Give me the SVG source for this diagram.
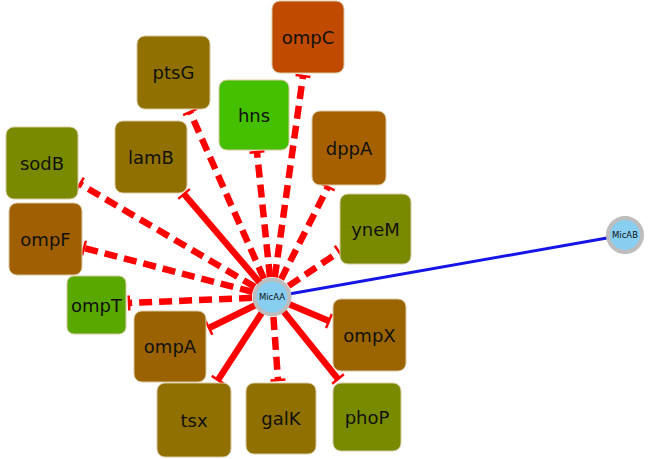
<svg xmlns="http://www.w3.org/2000/svg" width="654" height="459" viewBox="0 0 654 459">
<style>
.box{stroke:#d8c8a0;stroke-width:1}
.lbl{font-family:"DejaVu Sans",sans-serif;font-size:18px;fill:#111;text-anchor:middle;dominant-baseline:central}
.e{stroke:#ff0000;stroke-width:6.5;fill:none;marker-end:url(#tbar)}
.d{stroke-dasharray:13,7}
.circ{fill:#87cef0;stroke:#bdbdbd;stroke-width:4}
.sl{font-family:"DejaVu Sans",sans-serif;font-size:8.5px;fill:#111;text-anchor:middle;dominant-baseline:central}
</style>
<defs>
<marker id="tbar" markerUnits="userSpaceOnUse" viewBox="-2 -8 4 16" markerWidth="4" markerHeight="16" refX="0" refY="0" orient="auto">
<path d="M0,-7.5 L0,7.5" stroke="#ff0000" stroke-width="2.5"/>
</marker>
</defs>
<g id="connectors">
<line x1="272" y1="297" x2="624" y2="235" stroke="#1414e6" stroke-width="3"/>
<line class="e d" x1="272" y1="297" x2="303" y2="76"/>
<line class="e d" x1="272" y1="297" x2="190" y2="112"/>
<line class="e d" x1="272" y1="297" x2="257" y2="152"/>
<line class="e" x1="272" y1="297" x2="184" y2="194"/>
<line class="e d" x1="272" y1="297" x2="328" y2="187"/>
<line class="e d" x1="272" y1="297" x2="339" y2="252"/>
<line class="e d" x1="272" y1="297" x2="80" y2="184"/>
<line class="e d" x1="272" y1="297" x2="84" y2="248"/>
<line class="e d" x1="272" y1="297" x2="129" y2="303"/>
<line class="e" x1="272" y1="297" x2="209" y2="328"/>
<line class="e" x1="272" y1="297" x2="218" y2="380"/>
<line class="e d" x1="272" y1="297" x2="278" y2="380"/>
<line class="e" x1="272" y1="297" x2="329" y2="321"/>
<line class="e" x1="272" y1="297" x2="338" y2="379"/>
</g>
<g id="ompC"><rect class="box" x="272" y="1" width="72" height="72" rx="8" fill="#bf4a00"/><text class="lbl" x="308" y="37">ompC</text></g>
<g id="ptsG"><rect class="box" x="137" y="36" width="73" height="73" rx="8" fill="#8f7000"/><text class="lbl" x="173.5" y="72.5">ptsG</text></g>
<g id="hns"><rect class="box" x="219" y="80" width="70" height="70" rx="8" fill="#44c000"/><text class="lbl" x="254" y="115">hns</text></g>
<g id="lamB"><rect class="box" x="115" y="121" width="72" height="72" rx="8" fill="#8f7000"/><text class="lbl" x="151" y="157">lamB</text></g>
<g id="dppA"><rect class="box" x="312" y="111" width="74" height="74" rx="8" fill="#a66000"/><text class="lbl" x="349" y="148">dppA</text></g>
<g id="yneM"><rect class="box" x="340" y="194" width="71" height="70" rx="8" fill="#7a8a00"/><text class="lbl" x="375.5" y="229">yneM</text></g>
<g id="sodB"><rect class="box" x="6" y="127" width="72" height="72" rx="8" fill="#7a8a00"/><text class="lbl" x="42" y="163">sodB</text></g>
<g id="ompF"><rect class="box" x="9" y="203" width="73" height="72" rx="8" fill="#a05f00"/><text class="lbl" x="45.5" y="239">ompF</text></g>
<g id="ompT"><rect class="box" x="67" y="276" width="59" height="58" rx="7" fill="#58a800"/><text class="lbl" x="96.5" y="305">ompT</text></g>
<g id="ompA"><rect class="box" x="134" y="311" width="72" height="71" rx="8" fill="#9a6200"/><text class="lbl" x="170" y="346.5">ompA</text></g>
<g id="tsx"><rect class="box" x="157" y="383" width="74" height="74" rx="8" fill="#8f7000"/><text class="lbl" x="194" y="420">tsx</text></g>
<g id="galK"><rect class="box" x="246" y="383" width="70" height="71" rx="8" fill="#8f7000"/><text class="lbl" x="281" y="418.5">galK</text></g>
<g id="ompX"><rect class="box" x="333" y="299" width="73" height="72" rx="8" fill="#9a6400"/><text class="lbl" x="369.5" y="335">ompX</text></g>
<g id="phoP"><rect class="box" x="333" y="383" width="68" height="68" rx="8" fill="#788a00"/><text class="lbl" x="367" y="417">phoP</text></g>
<g id="MicAA"><circle class="circ" cx="272" cy="297" r="17.5"/><text class="sl" x="272" y="297">MicAA</text></g>
<g id="MicAB"><circle class="circ" cx="625" cy="235" r="17"/><text class="sl" x="625" y="235">MicAB</text></g>
</svg>
